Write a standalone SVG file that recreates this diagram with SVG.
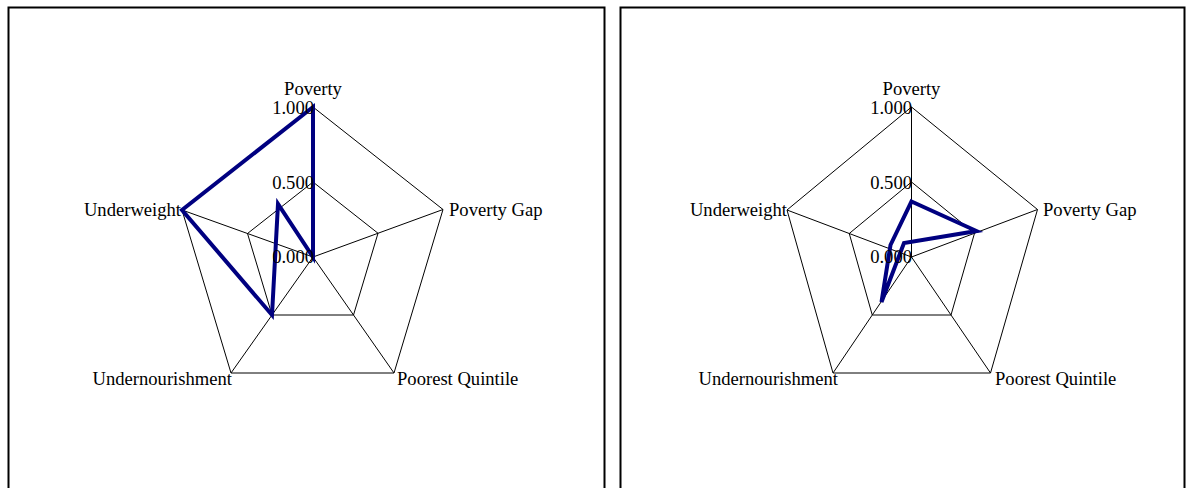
<svg xmlns="http://www.w3.org/2000/svg" width="1187" height="488" viewBox="0 0 1187 488">
<style>
.frame{fill:#fff;stroke:#000;stroke-width:2}
.grid{fill:none;stroke:#000;stroke-width:1}
.data{fill:none;stroke:#000080;stroke-width:4;stroke-linejoin:miter}
text{font-family:"Liberation Serif","Times New Roman",serif;font-size:18.6px;fill:#000}
.mid{text-anchor:middle}
.end{text-anchor:end}
</style>
<rect width="1187" height="488" fill="#fff"/>
<g id="chart-left">
<rect class="frame" x="8.5" y="7.5" width="596" height="490"/>
<g id="grid-left">
<polygon class="grid" points="313,107 443,209.5 394,373 231,373 182,210"/>
<polygon class="grid" points="313,182 378,233.25 353.5,315 272,315 247.5,233.5"/>
<path class="grid" d="M313,257L313,107M313,257L443,209.5M313,257L394,373M313,257L231,373M313,257L182,210"/>
</g>
<g id="series-left">
<polygon class="data" points="313,107 313,257 278,204 272,315 182,210"/>
</g>
<g id="labels-left">
<text class="mid" x="313" y="95">Poverty</text>
<text class="end" x="314" y="114">1.000</text>
<text class="end" x="314" y="189">0.500</text>
<text class="end" x="314" y="263">0.000</text>
<text x="449" y="216">Poverty Gap</text>
<text class="end" x="181" y="216">Underweight</text>
<text class="end" x="232" y="385">Undernourishment</text>
<text x="397" y="385">Poorest Quintile</text>
</g>
</g>
<g id="chart-right">
<rect class="frame" x="620.5" y="7.5" width="564" height="490"/>
<g id="grid-right">
<polygon class="grid" points="911.5,107 1037.5,209.5 990.5,373 833,373 787,210"/>
<polygon class="grid" points="911.5,182 974.5,233.25 951,315 872.25,315 849.25,233.5"/>
<path class="grid" d="M911.5,257L911.5,107M911.5,257L1037.5,209.5M911.5,257L990.5,373M911.5,257L833,373M911.5,257L787,210"/>
</g>
<g id="series-right">
<polygon class="data" points="911.5,201.5 976.5,231 904,243 881.5,302 890.5,245"/>
</g>
<g id="labels-right">
<text class="mid" x="911.5" y="95">Poverty</text>
<text class="end" x="912" y="114">1.000</text>
<text class="end" x="912" y="189">0.500</text>
<text class="end" x="912" y="263">0.000</text>
<text x="1043" y="216">Poverty Gap</text>
<text class="end" x="787" y="216">Underweight</text>
<text class="end" x="838" y="385">Undernourishment</text>
<text x="995" y="385">Poorest Quintile</text>
</g>
</g>
</svg>
